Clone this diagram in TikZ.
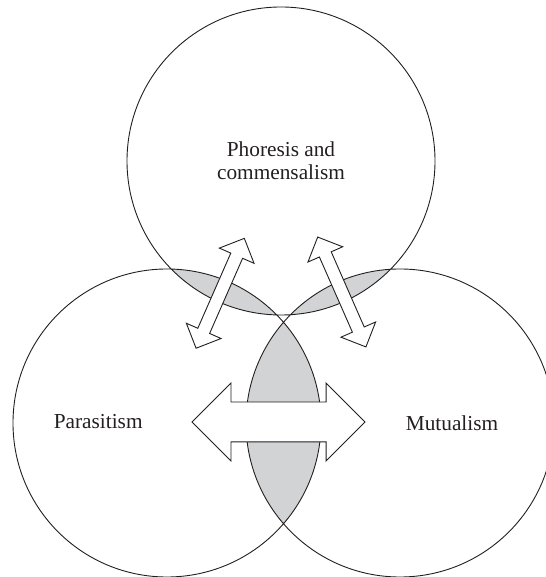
\documentclass[tikz,border=0pt]{standalone}
\usepackage{fontspec}
\setmainfont{Liberation Serif}
\usetikzlibrary{shapes.arrows}
\definecolor{ink}{HTML}{231F20}
\definecolor{lens}{HTML}{D1D3D4}

\begin{document}
\begin{tikzpicture}[x=1pt, y=1pt, line width=0.9pt,
	every node/.style={font=\fontsize{21.3}{23}\selectfont, text=ink},
	ring/.style={draw=ink},
	twoway/.style={double arrow, draw=ink, fill=white, double arrow tip angle=90, inner xsep=0pt, line join=miter}]
	\useasboundingbox (0,0) rectangle (545,577);
	\coordinate (ctop) at (281,416);
	\coordinate (cleft) at (167,154);
	\coordinate (cright) at (400,154);
	% shaded overlaps
	\begin{scope}
		\clip (ctop) circle[radius=154];
		\fill[lens] (cleft) circle[radius=154];
		\fill[lens] (cright) circle[radius=154];
	\end{scope}
	\begin{scope}
		\clip (cleft) circle[radius=154];
		\fill[lens] (cright) circle[radius=154];
	\end{scope}
	\draw[ring] (ctop) circle[radius=154] (cleft) circle[radius=154] (cright) circle[radius=154];
	% two-way arrows
	\node[twoway, minimum height=173, inner ysep=19.5, double arrow head extend=19] (pm) at (278.5,155) {};
	\node[twoway, minimum height=120, inner ysep=6, double arrow head extend=12.5, rotate=66.3] (pp) at (220.2,283.7) {};
	\node[twoway, minimum height=120, inner ysep=6, double arrow head extend=12.5, rotate=-66.3] (mp) at (341.8,285) {};
	% labels
	\node[align=center] (phoresis) at (ctop) {Phoresis and\\commensalism};
	\node[anchor=base] (parasitism) at (98.2,148.2) {Parasitism};
	\node[anchor=base] (mutualism) at (452,146.6) {Mutualism};
\end{tikzpicture}
\end{document}
